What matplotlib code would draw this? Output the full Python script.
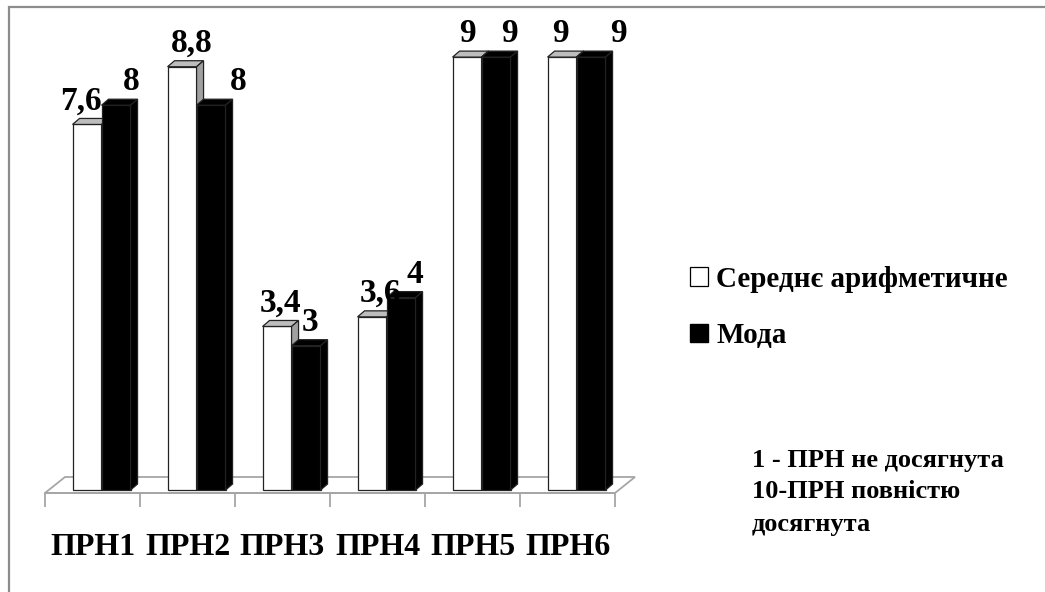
import matplotlib
matplotlib.use('Agg')
import matplotlib.pyplot as plt
from matplotlib.patches import Polygon, Patch, Rectangle

categories = ['ПРН1', 'ПРН2', 'ПРН3', 'ПРН4', 'ПРН5', 'ПРН6']
mean_values = [7.6, 8.8, 3.4, 3.6, 9, 9]
mode_values = [8, 8, 3, 4, 9, 9]
mean_labels = ['7,6', '8,8', '3,4', '3,6', '9', '9']
mode_labels = ['8', '8', '3', '4', '9', '9']
series_names = ['Середнє арифметичне', 'Мода']
note_lines = ['1 - ПРН не досягнута', '10-ПРН повністю', 'досягнута']

# label nudges (px), roughly how Excel placed them
mean_nudge = [-10, 6, 0, 5, -3, -5]
mode_nudge = [12, 24, 0, 10, 10, 24]

W, H = 1045, 592
SERIF = 'Liberation Serif'

fig = plt.figure(figsize=(W / 100, H / 100), dpi=100)
ax = fig.add_axes([45 / W, (H - 493) / H, 570 / W, 484 / H])
ax.set_xlim(-0.5, len(categories) - 0.5)
ax.set_ylim(-0.062, 10)

px_x = 570 / len(categories)   # px per category
px_y = 484 / 10.062            # px per unit value

bar_w = 29 / px_x
dx, dy = 7 / px_x, 6 / px_y          # bar depth
fdx, fdy = 20 / px_x, 16 / px_y      # floor depth

# floor
y0 = -0.062
ax.add_patch(Polygon([(-0.5, y0), (5.5, y0), (5.5 + fdx, y0 + fdy), (-0.5 + fdx, y0 + fdy)],
                     closed=True, fc='white', ec='#a6a6a6', lw=1.3, clip_on=False, zorder=1))


def box(left, top, front, topc, side, z):
    right = left + bar_w
    ax.bar(left, top, width=bar_w, align='edge', color=front, edgecolor='#222222', lw=0.9, zorder=z)
    ax.add_patch(Polygon([(left, top), (right, top), (right + dx, top + dy), (left + dx, top + dy)],
                         closed=True, fc=topc, ec='#222222', lw=0.9, zorder=z, clip_on=False))
    ax.add_patch(Polygon([(right, 0), (right + dx, dy), (right + dx, top + dy), (right, top)],
                         closed=True, fc=side, ec='#222222', lw=0.9, zorder=z, clip_on=False))


for i in range(len(categories)):
    wl = i - 0.21
    bl = wl + bar_w
    box(wl, mean_values[i], 'white', '#bdbdbd', '#a0a0a0', 3 + i * 2)
    box(bl, mode_values[i], 'black', 'black', 'black', 4 + i * 2)

    ax.annotate(mean_labels[i], (wl + bar_w / 2 + dx / 2, mean_values[i] + dy),
                xytext=(mean_nudge[i] * 0.72, 6.5), textcoords='offset points',
                ha='center', va='baseline', fontsize=24, fontweight='bold', family=SERIF,
                annotation_clip=False, zorder=20)
    ax.annotate(mode_labels[i], (bl + bar_w / 2 + dx / 2, mode_values[i] + dy),
                xytext=(mode_nudge[i] * 0.72, 6.5), textcoords='offset points',
                ha='center', va='baseline', fontsize=24, fontweight='bold', family=SERIF,
                annotation_clip=False, zorder=20)

for s in ['top', 'right', 'left']:
    ax.spines[s].set_visible(False)
ax.spines['bottom'].set_color('#a6a6a6')
ax.spines['bottom'].set_linewidth(1.3)
ax.set_yticks([])
ax.set_xticks(range(len(categories)))
ax.set_xticklabels(categories, family=SERIF, fontsize=23, fontweight='bold')
ax.set_xticks([i - 0.5 for i in range(len(categories) + 1)], minor=True)
ax.tick_params(axis='x', which='major', length=0, pad=29)
ax.tick_params(axis='x', which='minor', length=10, color='#a6a6a6', width=1.3)
ax.patch.set_visible(False)

fig.legend(handles=[Patch(fc='white', ec='black', lw=0.9), Patch(fc='black', ec='black')],
           labels=series_names, loc='upper left', bbox_to_anchor=(690 / W, 1 - 266 / H),
           frameon=False, handlelength=0.6, handleheight=0.6, handletextpad=0.3,
           labelspacing=1.0, borderpad=0, borderaxespad=0,
           prop={'family': SERIF, 'size': 21, 'weight': 'bold'})

for k, line in enumerate(note_lines):
    fig.text(752 / W, 1 - (460 + 32 * k) / H, line, family=SERIF, fontsize=19,
             fontweight='bold', va='center', ha='left')

# outer chart frame (right/bottom edges fall outside the picture)
fig.add_artist(Rectangle((9 / W, -0.05), 1.1, 1.05 - 7 / H, transform=fig.transFigure,
                         fill=False, ec='#8c8c8c', lw=1.6))

fig.savefig('out.png', dpi=100)
